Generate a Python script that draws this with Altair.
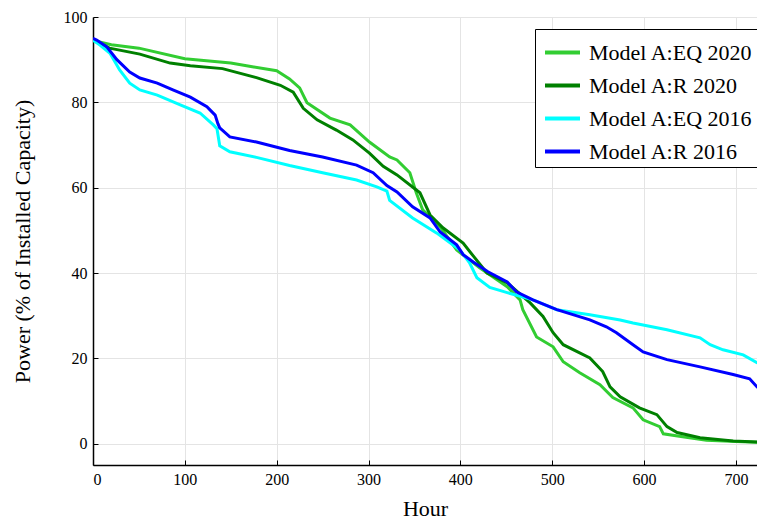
import altair as alt
import pandas as pd

series_names = ["Model A:EQ 2020", "Model A:R 2020", "Model A:EQ 2016", "Model A:R 2016"]
series_colors = ["#32cd32", "#008000", "#00ffff", "#0000ff"]

eq2020_hour = [0, 20, 50, 100, 150, 175, 200, 214, 225, 233, 258, 280, 301, 323, 331, 345, 352, 359,
               378, 396, 421, 451, 465, 468, 483, 501, 512, 530, 552, 566, 588, 599, 617, 621, 642,
               668, 700, 732]
eq2020_power = [94.5, 93.5, 92.7, 90.2, 89.2, 88.3, 87.4, 85.5, 83.4, 79.9, 76.3, 74.7, 70.7, 67.2,
                66.5, 63.5, 58.8, 54.8, 50.8, 45.4, 41.2, 36.8, 33.7, 31.4, 25.0, 22.7, 19.2, 16.6,
                13.8, 10.8, 8.4, 5.6, 4.0, 2.3, 1.6, 0.8, 0.5, 0.3]

r2020_hour = [0, 18, 51, 84, 106, 141, 178, 204, 218, 229, 244, 265, 283, 301, 316, 331, 356, 367,
              381, 403, 414, 429, 451, 476, 490, 501, 512, 541, 555, 563, 574, 595, 614, 625, 636,
              661, 697, 732]
r2020_power = [94.5, 92.7, 91.3, 89.2, 88.6, 87.9, 85.8, 84.0, 82.4, 78.6, 75.9, 73.5, 71.2, 68.1,
               65.0, 63.0, 58.8, 53.6, 50.6, 47.0, 44.0, 40.0, 37.7, 33.0, 29.8, 26.0, 23.2, 20.1,
               16.9, 13.3, 11.0, 8.4, 6.8, 4.0, 2.6, 1.4, 0.6, 0.3]

eq2016_hour = [0, 7.6, 18.5, 29, 40, 51, 70, 95, 116.5, 131, 135, 138, 149, 178, 214, 250, 287, 309,
               320, 323, 348, 374, 399.5, 410, 418, 432, 451, 479, 505, 541, 574, 588, 625, 661, 672,
               686, 708, 723, 732]
eq2016_power = [94.6, 93.4, 91.5, 87.6, 84.5, 82.9, 81.7, 79.4, 77.5, 74.7, 73.8, 69.8, 68.4, 67.1,
                65.2, 63.5, 61.8, 60.2, 59.2, 57.0, 52.9, 49.4, 45.4, 42.4, 38.9, 36.6, 35.4, 33.7,
                31.4, 30.2, 29.0, 28.3, 26.7, 24.8, 23.2, 22.0, 20.8, 19.0, 17.8]

r2016_hour = [0, 4, 15, 26, 40, 51, 70, 87, 106, 124, 133, 136, 138, 149, 178, 214, 250, 287, 305,
              320, 331, 348, 367, 378, 396, 403, 414, 430, 451, 461, 479, 505, 541, 559, 570, 588,
              599, 625, 661, 697, 715, 723, 732]
r2016_power = [95.0, 94.6, 93.0, 90.0, 87.1, 85.7, 84.5, 82.9, 81.2, 79.0, 77.0, 75.0, 74.0, 71.9,
               70.7, 68.7, 67.2, 65.3, 63.5, 60.5, 59.0, 55.5, 52.9, 49.6, 46.6, 44.3, 42.6, 40.3,
               37.9, 35.6, 33.7, 31.4, 29.0, 27.4, 26.0, 23.2, 21.5, 19.7, 18.0, 16.2, 15.2, 13.3,
               12.2]

x_ticks = [0, 100, 200, 300, 400, 500, 600, 700]
y_ticks = [0, 20, 40, 60, 80, 100]

rows = []
for name, hrs, vals in zip(series_names,
                           [eq2020_hour, r2020_hour, eq2016_hour, r2016_hour],
                           [eq2020_power, r2020_power, eq2016_power, r2016_power]):
    for i, (h, v) in enumerate(zip(hrs, vals)):
        rows.append({"series": name, "hour": h, "power": v, "order": i})
df = pd.DataFrame(rows)

FONT = "Liberation Serif"
xscale = alt.Scale(domain=[0, 723], nice=False, zero=False)
yscale = alt.Scale(domain=[-5, 100], nice=False, zero=False)

color = alt.Color(
    "series:N",
    scale=alt.Scale(domain=series_names, range=series_colors),
    legend=alt.Legend(
        title=None, orient="none", legendX=442, legendY=12,
        strokeColor="black", fillColor="white", padding=4, symbolOffset=4,
        labelFont=FONT, labelFontSize=22, labelColor="black", labelOffset=7,
        symbolType="stroke", symbolSize=1225, symbolStrokeWidth=4,
        rowPadding=2, labelLimit=400,
    ),
)

lines = alt.Chart(df).mark_line(strokeWidth=3, clip=True).encode(
    x=alt.X("hour:Q", scale=xscale, axis=alt.Axis(
        orient="bottom", values=x_ticks, title="Hour", grid=True, gridColor="#e4e4e4",
        domainColor="black", domainWidth=1.5, ticks=False, labelPadding=6,
        labelFont=FONT, labelFontSize=16, labelColor="black", format="d",
        titleFont=FONT, titleFontSize=22, titleFontWeight="normal", titleColor="black",
        titlePadding=11)),
    y=alt.Y("power:Q", scale=yscale, axis=alt.Axis(
        orient="left", values=y_ticks, title="Power (% of Installed Capacity)", grid=True,
        gridColor="#e4e4e4", domainColor="black", domainWidth=1.5, ticks=False, labelPadding=6,
        labelFont=FONT, labelFontSize=16, labelColor="black",
        titleFont=FONT, titleFontSize=22, titleFontWeight="normal", titleColor="black",
        titlePadding=29)),
    color=color,
    order="order:Q",
)

tick_layer = alt.Chart(df).mark_line(strokeOpacity=0).encode(
    x=alt.X("hour:Q", scale=xscale, axis=alt.Axis(
        orient="bottom", values=x_ticks, title=None, grid=False, domain=False, labels=False,
        ticks=True, tickSize=5, tickColor="black", tickWidth=1, offset=-5)),
    y=alt.Y("power:Q", scale=yscale, axis=alt.Axis(
        orient="left", values=y_ticks, title=None, grid=False, domain=False, labels=False,
        ticks=True, tickSize=5, tickColor="black", tickWidth=1, offset=-5)),
    detail="series:N",
)

chart = alt.layer(lines, tick_layer).resolve_axis(
    x="independent", y="independent"
).properties(
    width=664, height=448,
    autosize=alt.AutoSizeParams(type="none"),
    padding={"left": 85, "top": 9, "right": 0, "bottom": 57},
    background="white",
).configure_view(stroke=None)

chart.save("out.html", embed_options={"renderer": "svg", "actions": False})
